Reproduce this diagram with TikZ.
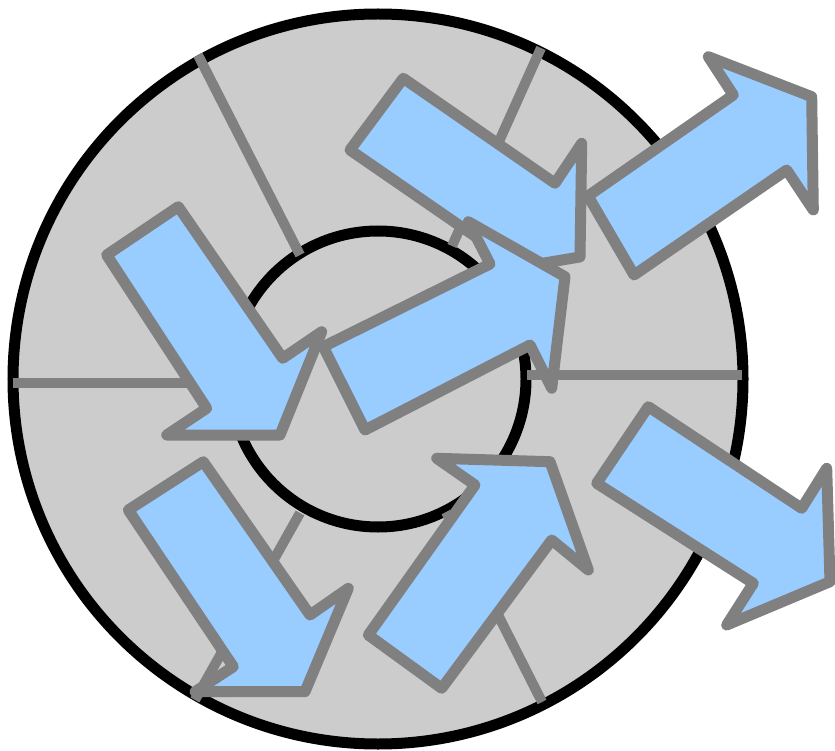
\documentclass[tikz,border=0pt]{standalone}
\definecolor{discgray}{HTML}{CCCCCC}
\definecolor{edgegray}{HTML}{808080}
\definecolor{arrowblue}{HTML}{99CCFF}
\tikzset{
  spoke/.style={draw=edgegray,line width=10pt},
  bigarrow/.style={draw=edgegray,fill=arrowblue,line width=11pt,line join=round},
  ringline/.style={draw=black,line width=11pt}
}
\begin{document}
\begin{tikzpicture}[x=1pt,y=-1pt]
\useasboundingbox (0,0) rectangle (835,751);
\coordinate (ctr) at (378,379);
% disc
\fill[discgray] (ctr) circle[radius=365];
\draw[ringline] (ctr) circle[radius=365];
\draw[ringline] (ctr) circle[radius=148];
% spokes
\draw[spoke] (198,55) -- (300,255);
\draw[spoke] (13,383) -- (231,383);
\draw[spoke] (527,375) -- (742,375);
\draw[spoke] (541,48) -- (452,246);
\draw[spoke] (300,513) -- (195,700);
\draw[spoke] (446,512) -- (542,702);
% arrows
\draw[bigarrow] (403.3,78.3) -- (555,183.3) -- (581.7,143.3) -- (580,257) -- (505,269.5) -- (495,250) -- (350,150) -- cycle;
\draw[bigarrow] (588,196) -- (733.3,95) -- (708.3,56.7) -- (811.7,96.7) -- (813.3,210) -- (786.7,170) -- (634,275) -- cycle;
\draw[bigarrow] (106.7,255) -- (178.3,206.7) -- (282.7,358.3) -- (321.7,331.7) -- (280,435) -- (166.7,435) -- (206.7,408.3) -- cycle;
\draw[bigarrow] (323.3,346.7) -- (490,264) -- (468.3,221.7) -- (565,276.7) -- (551.7,388.3) -- (530,345) -- (365,430) -- cycle;
\draw[bigarrow] (368.3,635) -- (475,485) -- (436.7,458.3) -- (550,461.7) -- (588.3,570) -- (551.7,540) -- (441.7,688.3) -- cycle;
\draw[bigarrow] (648.3,406.7) -- (801.7,508.3) -- (826.7,468.3) -- (830,581.7) -- (726.7,625) -- (753.3,583.3) -- (596.7,483.3) -- cycle;
\draw[bigarrow] (203.3,461.7) -- (310,615) -- (348.3,588.3) -- (305,691.7) -- (195,691.7) -- (233.3,666.7) -- (128.3,510) -- cycle;
\end{tikzpicture}
\end{document}
